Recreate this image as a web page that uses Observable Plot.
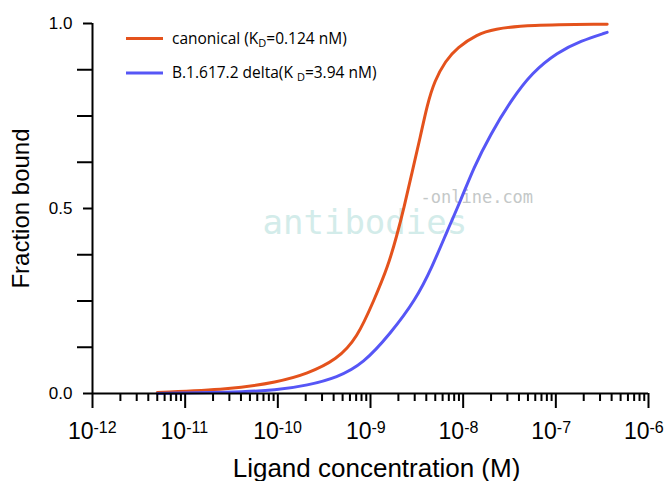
<!DOCTYPE html>
<html>
<head>
<meta charset="utf-8">
<script src="https://cdn.jsdelivr.net/npm/d3@7"></script>
<script src="https://cdn.jsdelivr.net/npm/@observablehq/plot@0.6"></script>
<style>
  html, body { margin: 0; padding: 0; background: #fff; }
  #chart svg { display: block; }
</style>
</head>
<body>
<div id="chart"></div>
<script>
// ---- data ----
const seriesNames = ["canonical", "B.1.617.2 delta"];
const seriesColors = ["#e4521c", "#5656f6"];

const concCanonical = [5.0e-12, 3.0e-11, 1.0e-10, 2.07e-10, 4.37e-10, 7.18e-10, 1.09e-9, 1.54e-9, 1.94e-9, 2.29e-9, 2.82e-9, 3.46e-9, 4.09e-9, 4.91e-9, 6.44e-9, 8.61e-9, 1.42e-8, 2.14e-8, 4.91e-8, 3.58e-7];
const boundCanonical = [0.003, 0.011, 0.031, 0.053, 0.092, 0.15, 0.252, 0.342, 0.43, 0.50, 0.60, 0.695, 0.78, 0.845, 0.899, 0.935, 0.971, 0.985, 0.996, 0.998];

const concDelta = [5.0e-12, 3.0e-11, 1.0e-10, 2.07e-10, 4.37e-10, 8.4e-10, 1.64e-9, 3.05e-9, 4.63e-9, 6.82e-9, 9.35e-9, 1.30e-8, 1.97e-8, 3.24e-8, 5.56e-8, 1.04e-7, 1.85e-7, 3.58e-7];
const boundDelta = [0.0, 0.003, 0.009, 0.022, 0.043, 0.081, 0.162, 0.252, 0.342, 0.443, 0.52, 0.611, 0.70, 0.79, 0.868, 0.922, 0.953, 0.976];

const xDecades = [1e-12, 1e-11, 1e-10, 1e-9, 1e-8, 1e-7, 1e-6];
const xExponents = ["-12", "-11", "-10", "-9", "-8", "-7", "-6"];
const yMajorTicks = [0, 0.5, 1];
const yTickLabels = ["0.0", "0.5", "1.0"];
const yMinorTicks = [0.125, 0.25, 0.375, 0.625, 0.75, 0.875];

const legendLabels = [
  {pre: "canonical (K", sub: "D", post: "=0.124 nM)"},
  {pre: "B.1.617.2 delta(K ", sub: "D", post: "=3.94 nM)"}
];

// ---- build tables ----
const canonical = concCanonical.map((c, i) => ({conc: c, bound: boundCanonical[i], series: seriesNames[0]}));
const delta = concDelta.map((c, i) => ({conc: c, bound: boundDelta[i], series: seriesNames[1]}));
const xMinor = xDecades.slice(0, -1).flatMap(d => [2, 3, 4, 5, 6, 7, 8, 9].map(k => k * d));

const axisFont = "Liberation Sans, Arial, Helvetica, sans-serif";

const plot = Plot.plot({
  width: 670,
  height: 481,
  marginLeft: 92,
  marginRight: 22,
  marginTop: 23,
  marginBottom: 88,
  style: {fontFamily: axisFont, background: "#fff", overflow: "visible"},
  x: {type: "log", domain: [1e-12, 1e-6]},
  y: {domain: [0, 1]},
  marks: [
    // watermark
    Plot.text(["antibodies"], {frameAnchor: "top-left", text: d => d, dx: 170, dy: 210, lineAnchor: "bottom", textAnchor: "start", fontSize: 34, fontFamily: "DejaVu Sans Mono", fill: "#d3ecea"}),
    Plot.text(["-online.com"], {frameAnchor: "top-left", text: d => d, dx: 328, dy: 179, lineAnchor: "bottom", textAnchor: "start", fontSize: 17, fontFamily: "DejaVu Sans Mono", fill: "#c4c8c8"}),
    // curves
    Plot.line(canonical, {x: "conc", y: "bound", stroke: seriesColors[0], strokeWidth: 3, curve: "basis"}),
    Plot.line(delta, {x: "conc", y: "bound", stroke: seriesColors[1], strokeWidth: 3, curve: "basis"}),
    // axis lines
    Plot.ruleY([0], {stroke: "#000", strokeWidth: 2}),
    Plot.ruleX([1e-12], {stroke: "#000", strokeWidth: 2}),
    // x ticks
    Plot.axisX({ticks: xDecades, tickSize: 15, tickFormat: () => "", label: null, strokeWidth: 2, stroke: "#000"}),
    Plot.axisX({ticks: xMinor, tickSize: 8, tickFormat: () => "", label: null, strokeWidth: 2, stroke: "#000"}),
    // y ticks
    Plot.axisY({ticks: yMajorTicks, tickSize: 9, tickFormat: () => "", label: null, strokeWidth: 2, stroke: "#000"}),
    Plot.axisY({ticks: yMinorTicks, tickSize: 15, tickFormat: () => "", label: null, strokeWidth: 2, stroke: "#000"}),
    // x tick labels 10^n
    Plot.text(xDecades, {x: d => d, frameAnchor: "bottom", text: () => "10", textAnchor: "end", lineAnchor: "bottom", dx: 1, dy: 45, fontSize: 23, fill: "#000"}),
    Plot.text(xDecades, {x: d => d, frameAnchor: "bottom", text: (d, i) => xExponents[i], textAnchor: "start", lineAnchor: "bottom", dx: 1, dy: 39, fontSize: 16, fill: "#000"}),
    // y tick labels
    Plot.text(yMajorTicks, {y: d => d, frameAnchor: "left", text: (d, i) => yTickLabels[i], textAnchor: "end", dx: -20, fontSize: 17, fill: "#000"}),
    // axis titles
    Plot.text(["Fraction bound"], {frameAnchor: "left", text: d => d, rotate: -90, textAnchor: "middle", lineAnchor: "bottom", dx: -64, fontSize: 24, fill: "#000"}),
    Plot.text(["Ligand concentration (M)"], {frameAnchor: "bottom", text: d => d, textAnchor: "middle", lineAnchor: "bottom", dx: 6, dy: 83, fontSize: 26, fill: "#000"})
  ]
});

document.getElementById("chart").appendChild(plot);

// ---- legend (inside the plot area, top-left) ----
const svg = d3.select(plot);
const legend = svg.append("g")
  .attr("font-family", "Open Sans, sans-serif")
  .attr("font-size", 15.5)
  .attr("text-anchor", "start");
const rows = [38.5, 73];
legendLabels.forEach((lab, i) => {
  const y = rows[i];
  legend.append("line").attr("x1", 126).attr("x2", 163).attr("y1", y).attr("y2", y)
    .attr("stroke", seriesColors[i]).attr("stroke-width", 3);
  const t = legend.append("text").attr("x", 172).attr("y", y + 5).attr("fill", "#000").attr("text-anchor", "start");
  t.append("tspan").text(lab.pre);
  t.append("tspan").attr("font-size", 11).attr("dy", 3).text(lab.sub);
  t.append("tspan").attr("dy", -3).text(lab.post);
});
</script>
</body>
</html>
